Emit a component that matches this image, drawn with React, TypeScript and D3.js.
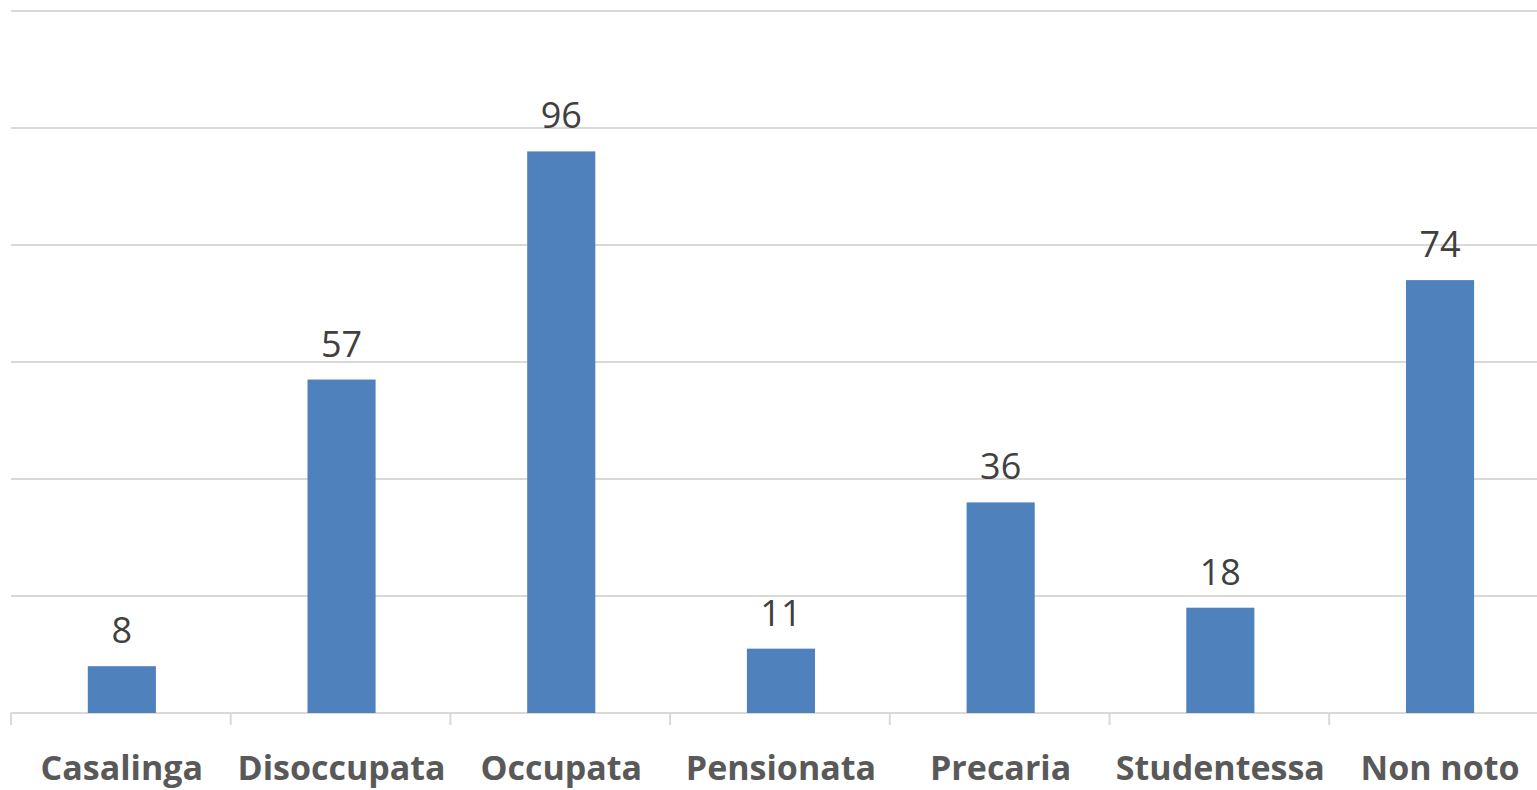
import React from "react";
import * as d3 from "d3";

const categories = ["Casalinga", "Disoccupata", "Occupata", "Pensionata", "Precaria", "Studentessa", "Non noto"];
const values = [8, 57, 96, 11, 36, 18, 74];
const gridTicks = [0, 20, 40, 60, 80, 100, 120];

export default function App() {
  const width = 1537;
  const height = 790;
  const left = 11;
  const step = 219.7;
  const top = 11;
  const bottom = 713;

  const x = d3
    .scaleBand()
    .domain(categories)
    .range([left, left + step * categories.length])
    .paddingInner(0.69)
    .paddingOuter(0.345);

  const y = d3.scaleLinear().domain([0, 120]).range([bottom, top]);

  const bandEdges = d3.range(categories.length + 1).map((i) => left + i * step);

  return (
    <svg
      width={width}
      height={height}
      style={{ position: "absolute", left: 0, top: 0, background: "#fff" }}
    >
      {gridTicks.map((t) => (
        <line
          key={t}
          x1={left}
          x2={width}
          y1={y(t)}
          y2={y(t)}
          stroke="#d9d9d9"
          strokeWidth={2}
        />
      ))}
      {bandEdges.map((e, i) => (
        <line key={i} x1={e} x2={e} y1={bottom} y2={bottom + 12} stroke="#d9d9d9" strokeWidth={2} />
      ))}
      {categories.map((c, i) => (
        <g key={c}>
          <rect
            x={(x(c) ?? 0) + 1}
            y={y(values[i])}
            width={x.bandwidth()}
            height={bottom - y(values[i])}
            fill="#4f81bd"
          />
          <text
            x={(x(c) ?? 0) + 1 + x.bandwidth() / 2}
            y={y(values[i]) - 23}
            textAnchor="middle"
            fontFamily="Open Sans, sans-serif"
            fontSize={36}
            fill="#404040"
          >
            {values[i]}
          </text>
          <text
            x={(x(c) ?? 0) + 1 + x.bandwidth() / 2}
            y={780}
            textAnchor="middle"
            fontFamily="Open Sans, sans-serif"
            fontWeight="bold"
            fontSize={34}
            fill="#595959"
          >
            {c}
          </text>
        </g>
      ))}
    </svg>
  );
}
